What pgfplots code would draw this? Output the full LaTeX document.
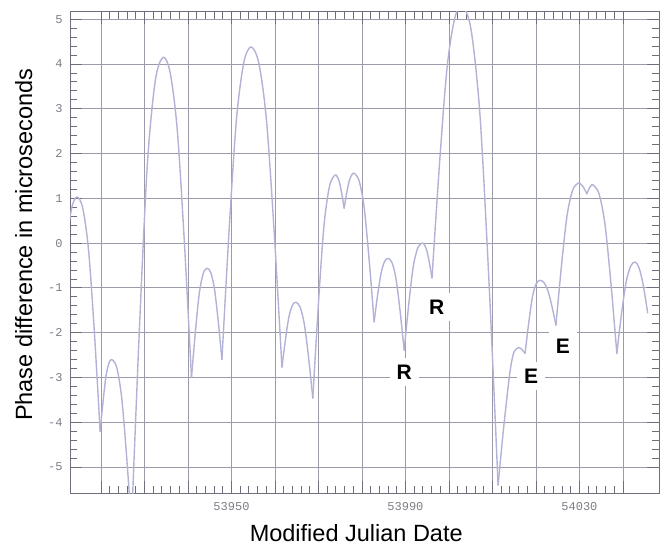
\documentclass[border=0pt]{standalone}
\usepackage{fontspec}
\setmainfont{Liberation Sans}
\newfontfamily\tickfont{Liberation Mono}
\usepackage{pgfplots}
\pgfplotsset{compat=1.18}
\definecolor{curve}{RGB}{178,178,214}
\definecolor{gridc}{RGB}{155,155,170}
\definecolor{framec}{RGB}{110,110,125}
\definecolor{tickc}{RGB}{125,125,135}
\pgfplotsset{ph/.style={curve, line width=1.4pt, smooth, mark=none, line join=round, line cap=round}}

\begin{document}
\begin{tikzpicture}
\useasboundingbox (-70pt,-54pt) rectangle (590pt,493pt);
\begin{axis}[
  scale only axis, width=589pt, height=481pt,
  xmin=53912.87, xmax=54048.3, ymin=-5.58, ymax=5.16,
  xtick={53920,53930,53940,53950,53960,53970,53980,53990,54000,54010,54020,54030,54040},
  xticklabels={,,,53950,,,,53990,,,,54030,},
  scaled x ticks=false,
  ytick={-5,-4,-3,-2,-1,0,1,2,3,4,5},
  minor x tick num=4, minor y tick num=4,
  tick align=inside,
  major tick length=12pt, minor tick length=7pt,
  grid=major,
  major grid style={gridc, line width=0.8pt},
  axis line style={framec, line width=1pt},
  tick style={framec, line width=0.8pt},
  ticklabel style={font=\tickfont\fontsize{12}{14}\selectfont, text=tickc},
  /pgf/number format/assume math mode=true,
  xticklabel style={yshift=-6pt},
  yticklabel style={xshift=-4pt},
  xlabel={Modified Julian Date},
  ylabel={Phase difference in microseconds},
  every axis x label/.style={at={(axis description cs:0.486,-0.1)}, anchor=base,
    font=\fontsize{23.5}{28}\selectfont},
  every axis y label/.style={at={(axis description cs:-0.0645,0.516)}, anchor=base, rotate=90,
    font=\fontsize{23.5}{28}\selectfont},
]
\addplot[ph] coordinates {(53909.5,-4.0)(53910.75,-1.89)(53912.0,-0.13)(53913.25,0.78)(53914.5,1.03)(53915.83,0.77)(53917.15,-0.17)(53918.48,-2.00)(53919.8,-4.2)};
\addplot[ph] coordinates {(53919.8,-4.2)(53920.48,-3.53)(53921.15,-2.97)(53921.83,-2.68)(53922.5,-2.6)(53923.63,-2.78)(53924.75,-3.45)(53925.88,-4.75)(53927.0,-6.3)};
\addplot[ph] coordinates {(53927.0,-6.3)(53928.83,-1.91)(53930.65,1.75)(53932.48,3.63)(53934.3,4.15)(53935.93,3.79)(53937.55,2.51)(53939.18,0.0)(53940.8,-3.0)};
\addplot[ph] coordinates {(53940.8,-3.0)(53941.7,-1.98)(53942.6,-1.12)(53943.5,-0.68)(53944.4,-0.56)(53945.25,-0.66)(53946.1,-1.03)(53946.95,-1.74)(53947.8,-2.6)};
\addplot[ph] coordinates {(53947.8,-2.6)(53949.48,0.33)(53951.15,2.77)(53952.83,4.03)(53954.5,4.38)(53956.28,4.02)(53958.05,2.74)(53959.83,0.23)(53961.6,-2.77)};
\addplot[ph] coordinates {(53961.6,-2.77)(53962.4,-2.16)(53963.2,-1.65)(53964.0,-1.39)(53964.8,-1.32)(53965.78,-1.43)(53966.75,-1.81)(53967.73,-2.56)(53968.7,-3.46)};
\addplot[ph] coordinates {(53968.7,-3.46)(53969.98,-1.37)(53971.25,0.37)(53972.53,1.27)(53973.8,1.52)(53974.33,1.48)(53974.85,1.35)(53975.38,1.09)(53975.9,0.78)};
\addplot[ph] coordinates {(53975.9,0.78)(53976.48,1.11)(53977.05,1.38)(53977.63,1.52)(53978.2,1.56)(53979.35,1.39)(53980.5,0.80)(53981.65,-0.37)(53982.8,-1.76)};
\addplot[ph] coordinates {(53982.8,-1.76)(53983.6,-1.16)(53984.4,-0.67)(53985.2,-0.41)(53986.0,-0.34)(53986.93,-0.44)(53987.85,-0.81)(53988.78,-1.53)(53989.7,-2.39)};
\addplot[ph] coordinates {(53989.7,-2.39)(53990.73,-1.39)(53991.75,-0.55)(53992.78,-0.12)(53993.8,0.0)(53994.38,-0.04)(53994.95,-0.18)(53995.53,-0.45)(53996.1,-0.78)};
\addplot[ph] coordinates {(53996.1,-0.78)(53997.83,1.77)(53999.55,3.90)(54001.28,5.00)(54003.0,5.3)(54005.08,4.77)(54007.15,2.84)(54009.23,-0.91)(54011.3,-5.4)};
\addplot[ph] coordinates {(54011.3,-5.4)(54012.6,-4.1)(54014.0,-2.9)(54014.8,-2.48)(54015.5,-2.36)(54016.1,-2.33)(54016.8,-2.38)(54017.5,-2.46)};
\addplot[ph] coordinates {(54017.5,-2.46)(54018.35,-1.78)(54019.2,-1.20)(54020.05,-0.91)(54020.9,-0.83)(54021.83,-0.88)(54022.75,-1.06)(54023.68,-1.41)(54024.6,-1.83)};
\addplot[ph] coordinates {(54024.6,-1.83)(54025.88,-0.50)(54027.15,0.61)(54028.43,1.18)(54029.7,1.34)(54030.2,1.33)(54030.7,1.28)(54031.2,1.2)(54031.7,1.1)};
\addplot[ph] coordinates {(54031.7,1.1)(54032.05,1.18)(54032.4,1.25)(54032.75,1.29)(54033.1,1.3)(54034.48,1.11)(54035.85,0.44)(54037.23,-0.88)(54038.6,-2.46)};
\addplot[ph] coordinates {(54038.6,-2.46)(54039.65,-1.60)(54040.7,-0.89)(54041.75,-0.52)(54042.8,-0.42)(54043.7,-0.55)(54044.6,-0.9)(54045.7,-1.56)};
\node[fill=white, inner sep=7pt, font=\bfseries\fontsize{21}{24}\selectfont] at (axis cs:53989.7,-2.88) {R};
\node[fill=white, inner sep=7pt, font=\bfseries\fontsize{21}{24}\selectfont] at (axis cs:53997.2,-1.43) {R};
\node[fill=white, inner sep=7pt, font=\bfseries\fontsize{21}{24}\selectfont] at (axis cs:54026.2,-2.30) {E};
\node[fill=white, inner sep=7pt, font=\bfseries\fontsize{21}{24}\selectfont] at (axis cs:54018.9,-2.97) {E};
\end{axis}
\end{tikzpicture}
\end{document}
